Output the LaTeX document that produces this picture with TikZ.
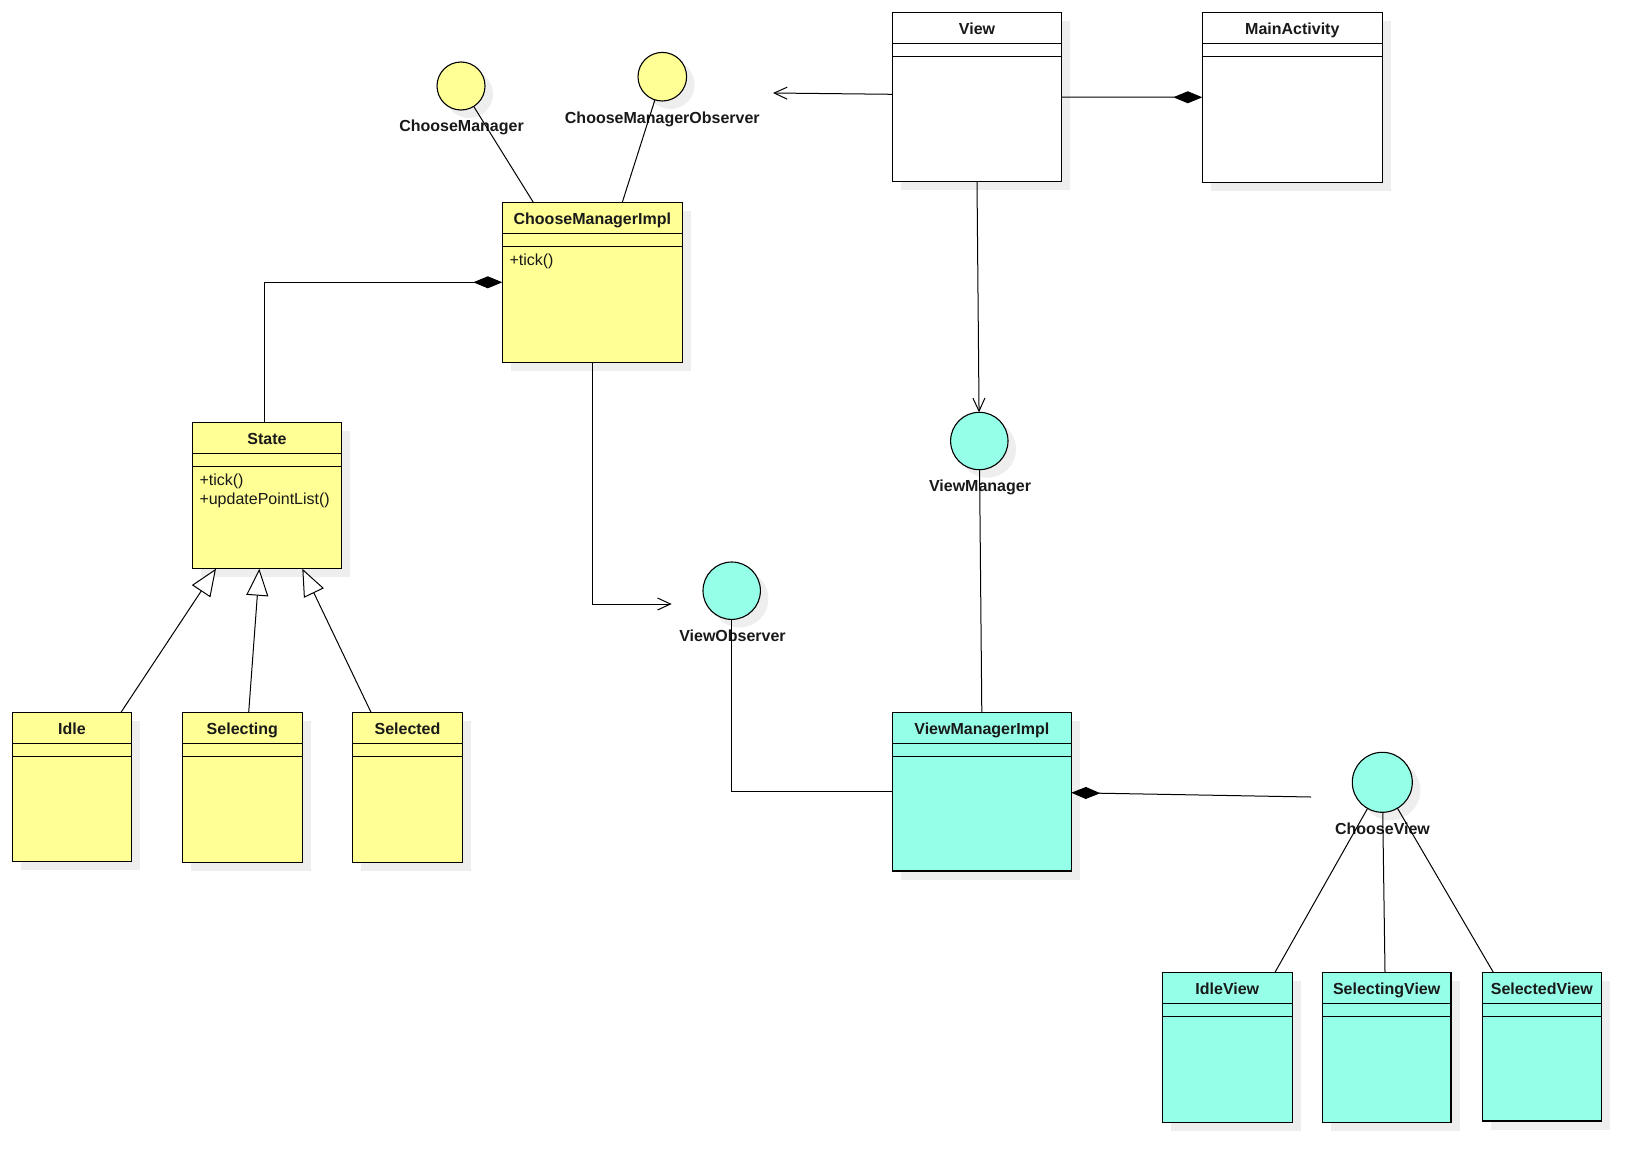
\documentclass[tikz,border=0pt]{standalone}
\usepackage{fontspec}
\setmainfont{Liberation Sans}
\usetikzlibrary{arrows.meta,calc}
\definecolor{umlyellow}{RGB}{255,255,150}
\definecolor{umlcyan}{RGB}{150,255,232}
\definecolor{shadowgray}{RGB}{238,238,238}
\definecolor{inkc}{RGB}{25,25,25}
\tikzset{
  classbox/.style={draw=black, line width=1.1pt, rectangle, inner sep=0pt, outer sep=0pt, anchor=north west},
  ifacecircle/.style={draw=black, line width=1.1pt, circle, inner sep=0pt, outer sep=0pt},
  titletext/.style={font=\fontsize{16}{19}\selectfont\bfseries, text=inkc, inner sep=0pt, anchor=base},
  methodtext/.style={font=\fontsize{16}{19}\selectfont, text=inkc, inner sep=0pt, anchor=base west},
  conn/.style={draw=black, line width=1pt},
  openarrow/.style={-{Straight Barb[length=13pt,width=12pt,line width=1pt]}},
  compo/.style={-{Diamond[length=29pt,width=12pt]}},
  compostart/.style={{Diamond[length=29pt,width=12pt]}-},
  generaliz/.style={-{Triangle[open,fill=white,length=27pt,width=22pt,line width=1pt]}},
}
\newcommand{\UMLclass}[7]{%
  \fill[shadowgray] (#3+8.5,#4+8.5) rectangle ++(#5,#6);
  \node[classbox, fill=#2, minimum width=#5pt, minimum height=#6pt] (#1) at (#3,#4) {};
  \draw[line width=1.1pt] ($(#1.north west)+(0,31)$) -- ($(#1.north east)+(0,31)$);
  \draw[line width=1.1pt] ($(#1.north west)+(0,44)$) -- ($(#1.north east)+(0,44)$);
  \node[titletext] (#1-title) at ($(#1.north)+(0,22.5)$) {#7};
}
\newcommand{\UMLiface}[5]{%
  \fill[shadowgray] (#3+8,#4+8) circle (#5);
  \node[ifacecircle, fill=#2, minimum size=2*#5 pt] (#1) at (#3,#4) {};
}
\begin{document}
\begin{tikzpicture}[x=1pt,y=-1pt]
\useasboundingbox[fill=white] (0,0) rectangle (1651,1172);

% classes
\UMLclass{view}{white}{892.3}{12.3}{169.4}{169.4}{View}
\UMLclass{main}{white}{1202.3}{12.3}{180}{170}{MainActivity}
\UMLclass{cmi}{umlyellow}{502.3}{202.3}{180}{160}{ChooseManagerImpl}
\UMLclass{state}{umlyellow}{192.3}{422.3}{149.4}{146.4}{State}
\UMLclass{idle}{umlyellow}{12.3}{712.3}{119.4}{149.4}{Idle}
\UMLclass{selecting}{umlyellow}{182.3}{712.3}{120}{150}{Selecting}
\UMLclass{selected}{umlyellow}{352.3}{712.3}{110.4}{150}{Selected}
\UMLclass{vmi}{umlcyan}{892.3}{712.3}{179}{158.7}{ViewManagerImpl}
\UMLclass{idleview}{umlcyan}{1162.3}{972.3}{130}{150}{IdleView}
\UMLclass{selectingview}{umlcyan}{1322.3}{972.3}{128.7}{150}{SelectingView}
\UMLclass{selectedview}{umlcyan}{1482.3}{972.3}{119}{148.7}{SelectedView}

% methods
\node[methodtext] (cmitick) at ($(cmi.north west)+(7,63)$) {+tick()};
\node[methodtext] (statetick) at ($(state.north west)+(7,63)$) {+tick()};
\node[methodtext] (stateupd) at ($(state.north west)+(7,82)$) {+updatePointList()};

% interfaces
\UMLiface{cm}{umlyellow}{461}{86}{24}
\UMLiface{cmo}{umlyellow}{662.3}{76.7}{24.3}
\UMLiface{vm}{umlcyan}{979.3}{441}{28.7}
\UMLiface{vo}{umlcyan}{731.7}{590.7}{28.7}
\UMLiface{cv}{umlcyan}{1382.3}{782.3}{30}

\node[titletext] (cmlabel) at (461.5,131) {ChooseManager};
\node[titletext] (cmolabel) at (662.3,123.7) {ChooseManagerObserver};
\node[titletext] (vmlabel) at (980,491.7) {ViewManager};
\node[titletext] (volabel) at (732.5,641.7) {ViewObserver};
\node[titletext] (cvlabel) at (1382.5,834.3) {ChooseView};

% free ends
\coordinate (viewarrowend) at (773,93);
\coordinate (cvend) at (1311,797);
\coordinate (voarrowend) at (671.7,604);

% connectors
\draw[conn, openarrow] ($(view.north west)+(0,82)$) -- (viewarrowend);
\draw[conn, compo] (view.east) -- (main.west);
\draw[conn, openarrow] (view.south) -- (vm);
\draw[conn] (vm) -- (vmi.north);
\draw[conn] (vo.south) |- ($(vmi.north west)+(0,79)$);
\draw[conn, compostart] ($(vmi.north east)+(0,80.4)$) -- (cvend);
\draw[conn] (cv) -- ($(idleview.north west)+(112.7,0)$);
\draw[conn] (cv) -- ($(selectingview.north west)+(62.7,0)$);
\draw[conn] (cv) -- ($(selectedview.north west)+(11,0)$);
\draw[conn] (cm) -- ($(cmi.north west)+(31,0)$);
\draw[conn] (cmo) -- ($(cmi.north west)+(120,0)$);
\draw[conn, compo] ($(state.north west)+(72.5,0)$) |- ($(cmi.north west)+(0,80)$);
\draw[conn, openarrow] (cmi.south) |- (voarrowend);
\draw[conn, generaliz] ($(idle.north west)+(108.7,0)$) -- ($(state.south west)+(23.7,0)$);
\draw[conn, generaliz] ($(selecting.north west)+(66.4,0)$) -- ($(state.south west)+(67,0)$);
\draw[conn, generaliz] ($(selected.north west)+(18.7,0)$) -- ($(state.south west)+(110,0)$);
\end{tikzpicture}
\end{document}
